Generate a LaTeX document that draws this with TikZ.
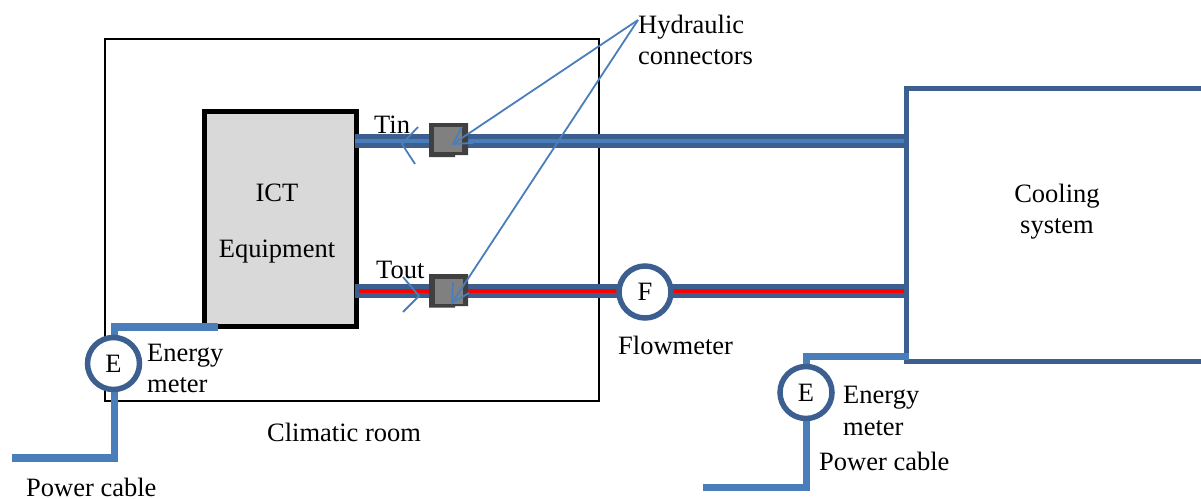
\documentclass[tikz,border=0pt]{standalone}
\usepackage{fontspec}
\setmainfont{Liberation Serif}
\definecolor{pipeblue}{HTML}{3C5F8F}
\definecolor{cableblue}{HTML}{4A7EBB}
\tikzset{
  x=1pt,y=-1pt,
  lbl/.style={inner sep=0pt,anchor=base west,font=\fontsize{26.5}{30}\selectfont,text=black},
  lblc/.style={lbl,anchor=base},
  room/.style={draw=black,line width=2.2pt},
  ict/.style={draw=black,fill=black!15,line width=5pt,minimum width=152pt,minimum height=215pt,inner sep=0pt},
  pipe/.style={draw=pipeblue,line width=14.5pt},
  pipecore/.style={draw=cableblue,line width=4pt},
  hotcore/.style={draw=red,line width=4.5pt},
  cool/.style={draw=pipeblue,line width=5pt,line join=miter},
  cable/.style={draw=cableblue,line width=7.5pt,line join=miter},
  meter/.style={circle,draw=pipeblue,line width=5.5pt,fill=white,minimum size=52pt,inner sep=0pt,font=\fontsize{26.5}{30}\selectfont},
  connin/.style={fill=black!50,draw=none,inner sep=0pt,minimum width=28pt,minimum height=25pt},
  lead/.style={draw=cableblue,line width=1.8pt},
}
\begin{document}
\begin{tikzpicture}
\useasboundingbox (0,0) rectangle (1201,498);
% climatic room
\draw[room] (105,39) rectangle (599,401);
% coordinates
\coordinate (cs1) at (1201,88);
\coordinate (cs2) at (906,88);
\coordinate (cs3) at (906,361);
\coordinate (cs4) at (1201,361);
\coordinate (pt1) at (906,141);
\coordinate (pb1) at (906,291);
\coordinate (p1) at (12,458);
\coordinate (p2) at (703,487.5);
\coordinate (hub) at (638,20);
% ICT
\node[ict] (ict) at (280,218.5) {};
\node[lblc] (ictA) at (277,201) {ICT};
\node[lblc] (ictB) at (277,257) {Equipment};
\coordinate (it) at ([xshift=-4pt]ict.east |- pt1);
\coordinate (ib) at ([xshift=-4pt]ict.east |- pb1);
% pipes
\draw[pipe] (it) -- (pt1);
\draw[pipecore] (it) -- (pt1);
\draw[pipe] (ib) -- (pb1);
\draw[hotcore] ([xshift=4pt]ib) -- (pb1);
% cooling system
\draw[cool] (cs1) -- (cs2) -- (cs3) -- (cs4);
\node[lblc] (csA) at (1057,202) {Cooling};
\node[lblc] (csB) at (1057,233) {system};
% connectors
\fill[black!75] (429,123) rectangle (455,157) (455,123) rectangle (468,155);
\node[connin] (c1) at (448,139.5) {};
\fill[black!75] (429,274) rectangle (455,307.5) (455,274) rectangle (468,306);
\node[connin] (c2) at (449,291) {};
% flowmeter
\node[meter] (F) at (645,292) {F};
\node[lbl] (fl) at (618,354) {Flowmeter};
% cables
\coordinate (ca1) at (218,327);
\coordinate (ca2) at (909,356.5);
\coordinate (E1top) at (114.5,363);
\coordinate (E2top) at (806.5,392);
\draw[cable] (ca1) -- (E1top |- ca1) -- (E1top) -- (E1top |- p1) -- (p1);
\draw[cable] (ca2) -- (E2top |- ca2) -- (E2top) -- (E2top |- p2) -- (p2);
\node[meter] (E1) at (113.5,363.5) {E};
\node[meter] (E2) at (806,392.5) {E};
% labels
\node[lbl] (h1) at (638,33) {Hydraulic};
\node[lbl] (h2) at (638,64) {connectors};
\node[lbl] (tin) at (374,133) {Tin};
\node[lbl] (tout) at (376,278) {Tout};
\node[lbl] (e1a) at (147,361) {Energy};
\node[lbl] (e1b) at (147,392) {meter};
\node[lbl] (e2a) at (843,403) {Energy};
\node[lbl] (e2b) at (843,435) {meter};
\node[lblc] (cr) at (344,441) {Climatic room};
\node[lbl] (pc1) at (26,496) {Power cable};
\node[lbl] (pc2) at (819,470) {Power cable};
% leader arrows
\coordinate (t1) at (453,144);
\coordinate (t2) at (452,303);
\draw[lead] (hub) -- (t1);
\draw[lead] (hub) -- (t2);
\draw[lead] (462,127) -- (t1) -- (473,143);
\draw[lead] (453,282) -- (t2) -- (469,293);
\coordinate (t3) at (402,144);
\coordinate (t4) at (419,296);
\draw[lead] (418,127) -- (t3) -- (415,164);
\draw[lead] (403,277) -- (t4) -- (403,312);
\end{tikzpicture}
\end{document}
